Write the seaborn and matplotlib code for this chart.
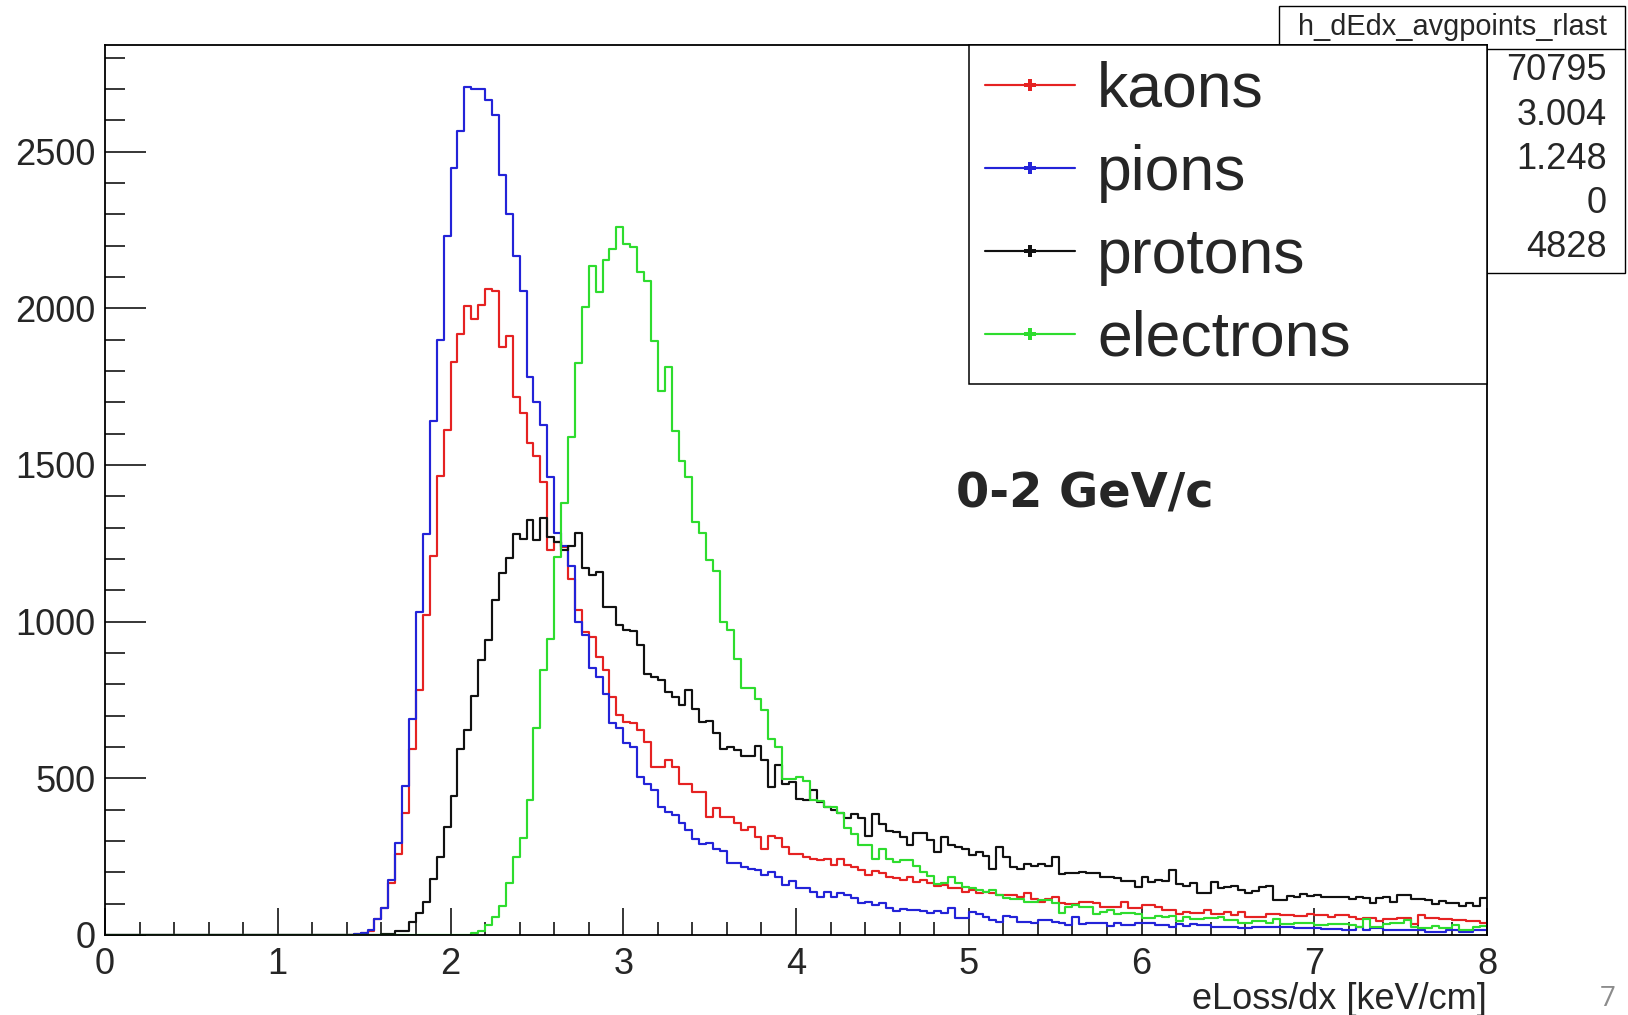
import numpy as np
import pandas as pd
import matplotlib
matplotlib.use("Agg")
import matplotlib.pyplot as plt
from matplotlib.lines import Line2D
from matplotlib.patches import Rectangle
import seaborn as sns

# ---------------- data (bin contents, 200 bins of width 0.04 on 0..8) ----------------
x_min, x_max, n_bins = 0.0, 8.0, 200

kaons = [0] * 36 + [
    2, 5, 12, 50, 85, 165, 258, 390, 592, 783, 1020, 1208, 1466, 1612, 1829, 1917, 2006, 1965, 2010, 2061,
    2055, 1877, 1912, 1716, 1666, 1569, 1528, 1445, 1227, 1253, 1238, 1137, 1036, 967, 951, 887, 845, 760,
    701, 680, 675, 653, 616, 537, 537, 560, 537, 483, 483, 457, 457, 377, 404, 377, 377,
    356, 335, 345, 313, 273, 315, 308, 281, 260, 260, 250, 244, 239, 241, 223, 244, 223, 218, 207, 191,
    205, 197, 186, 181, 175, 184, 170, 175, 165, 156, 159, 149, 149, 138, 143, 133, 138, 133, 127, 127,
    127, 122, 133, 114, 106, 114, 122, 101, 99, 99, 106, 106, 101, 90, 90, 90, 106, 85, 85, 96,
    96, 90, 80, 80, 67, 74, 69, 69, 80, 67, 67, 74, 64, 74, 58, 58, 58, 67, 67, 64,
    64, 61, 61, 67, 64, 64, 58, 64, 64, 58, 50, 53, 53, 46, 50, 50, 53, 53, 35, 64,
    53, 53, 50, 50, 48, 48, 46, 46, 39]

pions = [0] * 36 + [
    2, 5, 16, 50, 85, 175, 294, 475, 690, 1030, 1280, 1641, 1898, 2231, 2446, 2565, 2705, 2700, 2700, 2663,
    2618, 2424, 2300, 2167, 2055, 1781, 1702, 1628, 1463, 1282, 1240, 1179, 998, 956, 852, 823, 770, 678,
    661, 613, 600, 505, 483, 462, 409, 393, 382, 356, 335, 305, 290, 294, 276, 269, 230,
    230, 218, 212, 207, 191, 202, 186, 159, 173, 151, 149, 138, 120, 138, 122, 135, 127, 117, 101, 106,
    96, 101, 85, 77, 82, 80, 80, 77, 71, 77, 69, 85, 53, 53, 74, 67, 58, 48, 42, 61,
    58, 42, 42, 37, 48, 48, 42, 37, 32, 56, 35, 37, 37, 37, 29, 37, 32, 32, 37, 37,
    37, 32, 32, 27, 35, 29, 35, 32, 32, 27, 27, 27, 27, 21, 21, 27, 27, 27, 27, 27,
    27, 21, 21, 21, 21, 19, 19, 19, 16, 16, 27, 16, 21, 21, 16, 16, 16, 16, 16, 16,
    11, 11, 11, 16, 16, 11, 11, 16, 16]

protons = [0] * 40 + [
    2, 4, 12, 14, 40, 69, 106, 178, 249, 345, 442, 595, 653, 763, 878, 942, 1068, 1155, 1202, 1279,
    1264, 1325, 1260, 1330, 1271, 1253, 1227, 1240, 1282, 1170, 1150, 1158, 1046, 1046, 988, 972, 970, 924,
    832, 823, 815, 775, 759, 733, 783, 722, 680, 683, 645, 592, 600,
    590, 570, 570, 602, 558, 473, 542, 483, 489, 435, 430, 462, 425, 409, 400, 388, 372, 386, 372, 315,
    386, 354, 332, 329, 313, 287, 326, 326, 303, 265, 313, 287, 281, 276, 255, 265, 252, 212, 281, 250,
    218, 212, 228, 220, 228, 220, 248, 194, 199, 199, 202, 197, 197, 186, 186, 181, 173, 173, 154, 184,
    170, 177, 173, 207, 163, 156, 165, 133, 133, 170, 149, 154, 156, 143, 133, 141, 154, 156, 112, 112,
    124, 120, 131, 124, 128, 122, 122, 120, 120, 114, 120, 117, 101, 117, 120, 106, 127, 127, 114, 114,
    112, 99, 109, 101, 101, 92, 103, 92, 117]

electrons = [0] * 53 + [
    7, 14, 32, 58, 92, 167, 250, 308, 432, 659, 847, 945, 1206, 1378, 1590, 1824, 2004, 2135, 2053, 2153,
    2188, 2259, 2204, 2194, 2117, 2087, 1896, 1735, 1811, 1607, 1514, 1461, 1317, 1282, 1197, 1161, 998, 972,
    882, 789, 789, 754, 717, 624, 600, 499, 499, 505, 492, 430, 428, 409, 409, 388, 340, 322, 287, 287,
    244, 273, 241, 234, 239, 239, 220, 202, 188, 163, 167, 184, 167, 154, 149, 143, 138, 143, 127, 117,
    114, 114, 106, 106, 112, 112, 101, 69, 90, 96, 90, 90, 67, 74, 80, 67, 69, 69, 67, 53,
    53, 61, 58, 61, 46, 58, 50, 50, 53, 53, 57, 48, 48, 39, 39, 46, 46, 37, 50, 35,
    35, 37, 39, 39, 32, 32, 35, 35, 35, 32, 27, 50, 27, 27, 35, 37, 37, 48, 27, 21,
    21, 29, 21, 21, 32, 17, 17, 25, 29]

series_names = ["kaons", "pions", "protons", "electrons"]
series_values = [kaons, pions, protons, electrons]
series_colors = ["#e52222", "#2323d8", "#111111", "#2edc2e"]

y_ticks = [0, 500, 1000, 1500, 2000, 2500]
x_ticks = [0, 1, 2, 3, 4, 5, 6, 7, 8]
x_label = "eLoss/dx [keV/cm]"
annotation = "0-2 GeV/c"
stats_title = "h_dEdx_avgpoints_rlast"
stats_values = ["70795", "3.004", "1.248", "0", "4828"]
page_number = "7"

# ---------------- figure ----------------
sns.set_style("ticks")
plt.rcParams["font.family"] = ["Liberation Sans", "DejaVu Sans"]

W, H = 1628, 1015
fig = plt.figure(figsize=(W / 100, H / 100), dpi=100)
fig.patch.set_facecolor("white")

ax_left, ax_right, ax_top, ax_bottom = 105, 1487, 45, 935
ax = fig.add_axes([ax_left / W, 1 - ax_bottom / H, (ax_right - ax_left) / W, (ax_bottom - ax_top) / H])

edges = np.linspace(x_min, x_max, n_bins + 1)
centers = 0.5 * (edges[:-1] + edges[1:])

for name, vals, col in zip(series_names, series_values, series_colors):
    assert len(vals) == n_bins, (name, len(vals))
    df = pd.DataFrame({"x": centers, "w": np.asarray(vals, float)})
    sns.histplot(data=df, x="x", weights="w", bins=n_bins, binrange=(x_min, x_max),
                 element="step", fill=False, color=col, linewidth=1.55, ax=ax)

ax.set_xlim(x_min, x_max)
ax.set_ylim(0, 2840)
ax.set_ylabel("")
ax.set_xticks(x_ticks)
ax.set_xticklabels([str(t) for t in x_ticks])
ax.set_yticks(y_ticks)
ax.set_yticklabels([str(t) for t in y_ticks])
ax.xaxis.set_minor_locator(matplotlib.ticker.MultipleLocator(0.2))
ax.yaxis.set_minor_locator(matplotlib.ticker.MultipleLocator(100))

for sp in ax.spines.values():
    sp.set_visible(True)
    sp.set_linewidth(1.3)
    sp.set_color("black")

ax.tick_params(axis="both", which="both", direction="in", top=False, right=False,
               width=1.1, color="black", labelsize=26)
ax.tick_params(axis="y", which="major", length=29.5, pad=7)
ax.tick_params(axis="y", which="minor", length=14.5)
ax.tick_params(axis="x", which="major", length=19.5, pad=9)
ax.tick_params(axis="x", which="minor", length=9.7)

ax.set_xlabel(x_label, fontsize=26, ha="right", va="top")
ax.xaxis.set_label_coords(1.0, -0.053)

ax.text((956 - ax_left) / (ax_right - ax_left), (ax_bottom - 494) / (ax_bottom - ax_top),
        annotation, transform=ax.transAxes, fontsize=34.5, fontweight="bold",
        family="DejaVu Sans", ha="left", va="center")

# legend
handles = [Line2D([0], [0], color=c, lw=1.55, marker="P", markersize=9, markeredgewidth=0)
           for c in series_colors]
leg_x0 = (969 - ax_left) / (ax_right - ax_left)
leg_y0 = (ax_bottom - 378) / (ax_bottom - ax_top)
leg = ax.legend(handles, series_names, loc="upper left",
                bbox_to_anchor=(leg_x0, leg_y0, 1 - leg_x0, 1 - leg_y0), mode="expand",
                fontsize=45, frameon=True, fancybox=False, framealpha=1, edgecolor="black",
                handlelength=1.45, handletextpad=0.35, labelspacing=0.385, borderpad=0.25,
                borderaxespad=0.0)
leg.get_frame().set_linewidth(1.1)
leg.set_zorder(10)

# stats box (behind the axes so the legend covers it)
sx0, sx1, sy0, sy1, sh = 1279, 1625, 6, 273, 49
fig.add_artist(Rectangle((sx0 / W, 1 - sy1 / H), (sx1 - sx0) / W, (sy1 - sy0) / H,
                         transform=fig.transFigure, facecolor="white", edgecolor="black",
                         linewidth=1.0, zorder=-2))
fig.add_artist(Line2D([sx0 / W, sx1 / W], [1 - sh / H, 1 - sh / H], transform=fig.transFigure,
                      color="black", linewidth=1.0, zorder=-1))
fig.text((sx0 + sx1) / 2 / W, 1 - 27 / H, stats_title, fontsize=20.8, ha="center", va="center",
         zorder=-1)
for i, v in enumerate(stats_values):
    fig.text(1607 / W, 1 - (71 + 44.2 * i) / H, v, fontsize=26, ha="right", va="center", zorder=-1)

fig.text(1600 / W, 1 - 1013 / H, page_number, fontsize=20, color="#8c8c8c", ha="left", va="bottom",
         family="Open Sans")

fig.savefig("out.png", dpi=100, facecolor="white")
